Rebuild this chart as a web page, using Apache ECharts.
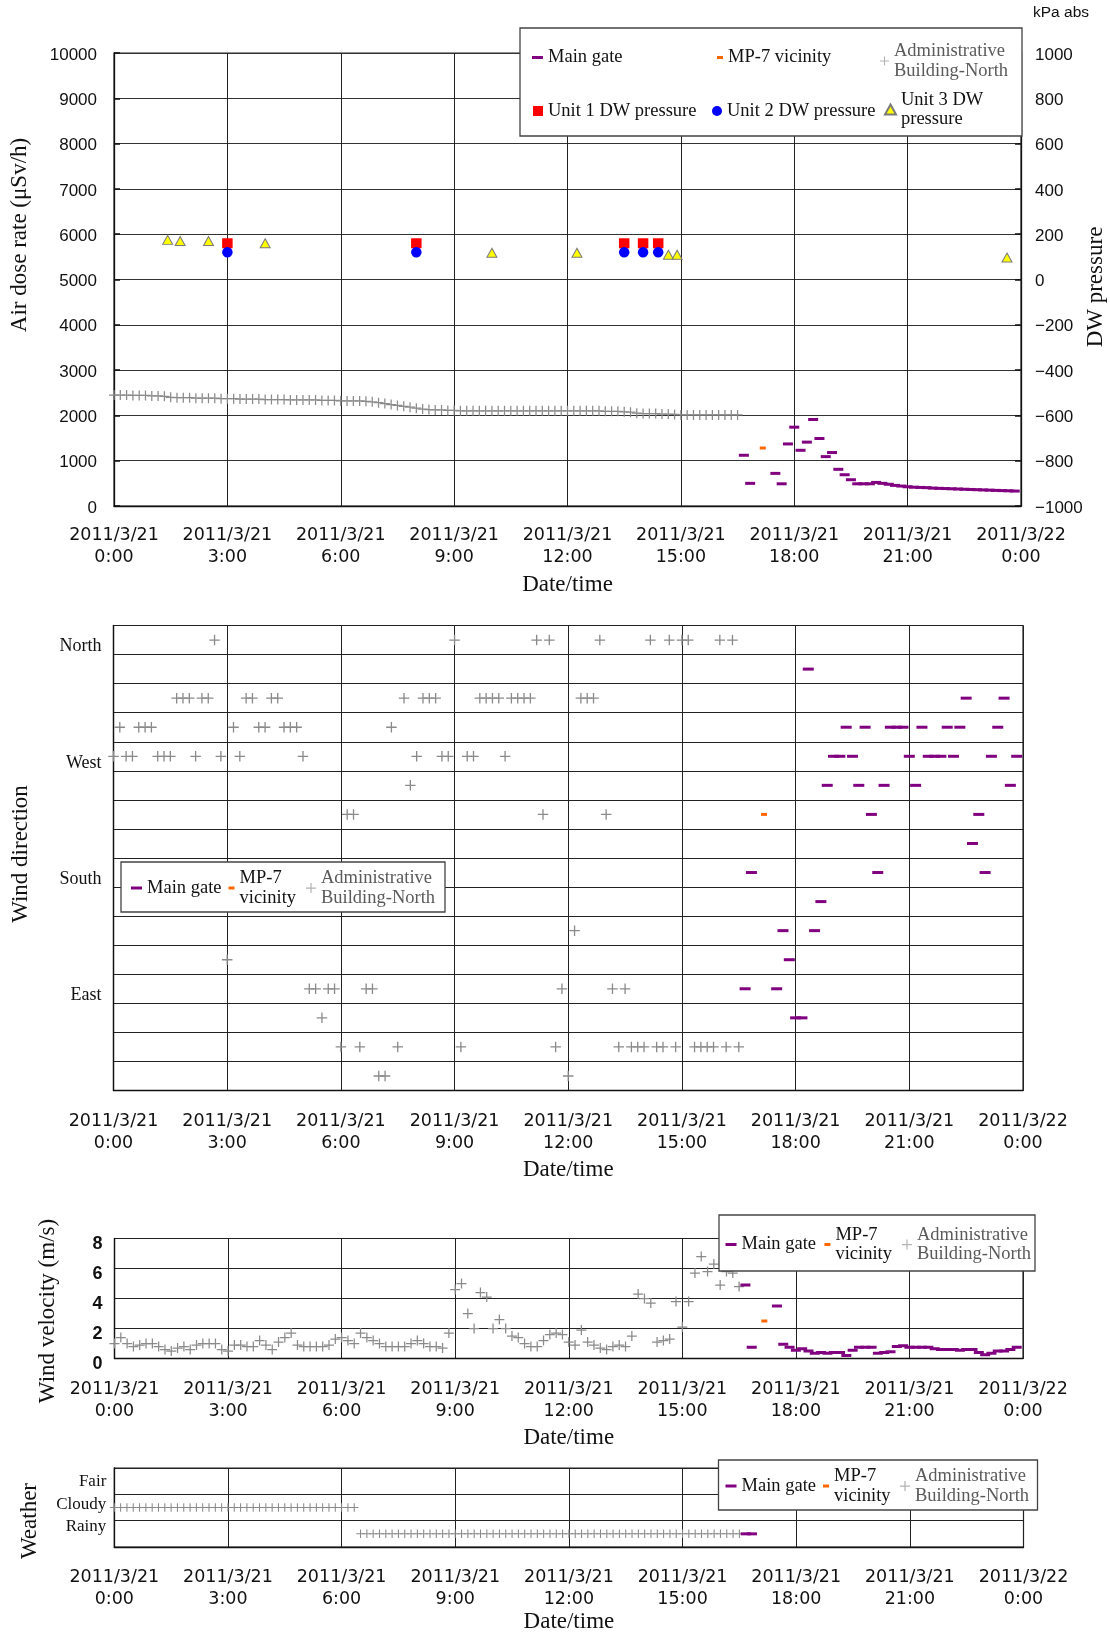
<!DOCTYPE html>
<html><head><meta charset="utf-8">
<script src="https://cdn.jsdelivr.net/npm/echarts@6/dist/echarts.min.js"></script>
<style>html,body{margin:0;padding:0;background:#fff}#c{width:1110px;height:1633px}</style>
</head><body><div id="c"></div>
<script>
// ---------- DATA (10-minute slots; slot 0 = 2011/3/21 0:00) ----------
const X_TICK_LABELS = ['2011/3/21\n0:00','2011/3/21\n3:00','2011/3/21\n6:00','2011/3/21\n9:00','2011/3/21\n12:00','2011/3/21\n15:00','2011/3/21\n18:00','2011/3/21\n21:00','2011/3/22\n0:00'];
const DIRS = ['N','NNW','NW','WNW','W','WSW','SW','SSW','S','SSE','SE','ESE','E','ENE','NE','NNE'];
const DIR_LABELS = {N:'North', W:'West', S:'South', E:'East'};
const WEATHER = ['Fair','Cloudy','Rainy'];

const ADMIN_START = 0;      // Administrative Building-North: slots 0..99
const MAIN_START = 100;     // Main gate: slots 100..143
const MP7_SLOTS = [103];

// Air dose rate (uSv/h)
const adminDose = [2450,2450,2450,2440,2440,2440,2430,2430,2420,2400,
  2390,2390,2390,2380,2380,2380,2380,2370,2370,2370,
  2360,2360,2360,2360,2350,2350,2350,2350,2340,2340,
  2340,2340,2340,2330,2330,2330,2320,2320,2320,2320,
  2310,2300,2280,2260,2240,2220,2200,2180,2160,2140,
  2130,2120,2120,2110,2110,2100,2100,2100,2100,2100,
  2100,2100,2100,2100,2100,2100,2100,2100,2100,2100,
  2100,2100,2100,2100,2100,2100,2100,2100,2090,2090,
  2090,2080,2070,2050,2040,2040,2040,2030,2030,2020,
  2010,2010,2010,2010,2010,2010,2010,2010,2010,2010];
const mainGateDose = [1120,500,null,null,null,720,490,1370,1740,1230,
  1410,1910,1490,1090,1180,810,690,580,490,490,
  490,520,500,480,455,440,425,415,410,405,
  395,390,385,380,375,370,365,360,355,350,
  345,340,336,330];
const mp7Dose = [1280];

// DW pressure (kPa abs), time in hours
const unit1Time = [3, 8, 13.5, 14, 14.4];
const unit1P    = [160, 160, 160, 160, 160];
const unit2Time = [3, 8, 13.5, 14, 14.4];
const unit2P    = [120, 120, 120, 120, 120];
const unit3Time = [1.42, 1.75, 2.5, 4, 10, 12.25, 14.67, 14.9, 23.63];
const unit3P    = [175, 170, 170, 160, 118, 118, 109, 109, 97];

// Wind direction
const adminDir = ['W','WNW','W','W','WNW','WNW','WNW','W','W','W',
  'NW','NW','NW','W','NW','NW','N','W','ESE','WNW',
  'W','NW','NW','WNW','WNW','NW','NW','WNW','WNW','WNW',
  'W','E','E','ENE','E','E','NE','SW','SW','NE',
  'E','E','NNE','NNE','WNW','NE','NW','WSW','W','NW',
  'NW','NW','W','W','N','NE','W','W','NW','NW',
  'NW','NW','W','NW','NW','NW','NW','N','SW','N',
  'NE','E','NNE','SE','NW','NW','NW','N','SW','E',
  'NE','E','NE','NE','NE','N','NE','NE','N','NE',
  'N','N','NE','NE','NE','NE','N','NE','N','NE'];
const mainGateDir = ['E','S',null,null,null,'E','SE','ESE','ENE','ENE',
  'NNW','SE','SSE','WSW','W','W','WNW','W','WSW','WNW',
  'SW','S','WSW','WNW','WNW','WNW','W','WSW','WNW','W',
  'W','W','WNW','W','WNW','NW','SSW','SW','S','W',
  'WNW','NW','WSW','W'];
const mp7Dir = ['SW'];

// Wind velocity (m/s)
const adminVel = [1.0,1.4,1.0,0.8,0.9,1.0,1.0,0.8,0.6,0.5,
  0.7,0.8,0.6,0.9,1.0,1.0,1.0,0.6,0.5,0.9,
  0.9,0.8,0.8,1.2,0.9,0.6,1.1,1.4,1.7,0.9,
  0.8,0.8,0.8,0.8,0.9,1.3,1.4,1.2,1.0,1.7,
  1.4,1.2,1.0,0.8,0.8,0.8,0.8,1.0,1.2,1.0,
  0.8,0.8,0.7,1.7,4.6,5.0,3.0,2.0,4.4,4.1,
  2.0,2.6,2.0,1.5,1.4,1.0,0.8,0.8,1.2,1.6,
  1.7,1.6,1.1,0.9,1.9,1.1,0.9,0.7,0.6,0.8,
  0.9,0.8,1.5,4.3,4.0,3.7,1.1,1.2,1.3,3.8,
  2.1,3.8,5.7,6.8,5.8,6.3,4.9,5.8,5.7,4.8];
const mainGateVel = [4.9,0.75,null,null,null,3.5,0.95,0.75,0.55,0.65,
  0.5,0.35,0.4,0.35,0.4,0.4,0.2,0.55,0.75,0.75,
  0.75,0.35,0.4,0.45,0.8,0.85,0.75,0.75,0.75,0.75,
  0.65,0.6,0.6,0.6,0.55,0.6,0.6,0.4,0.25,0.35,
  0.5,0.5,0.6,0.75];
const mp7Vel = [2.5];

// Weather
const adminWeather = ['Cloudy','Cloudy','Cloudy','Cloudy','Cloudy','Cloudy','Cloudy','Cloudy','Cloudy','Cloudy',
  'Cloudy','Cloudy','Cloudy','Cloudy','Cloudy','Cloudy','Cloudy','Cloudy','Cloudy','Cloudy',
  'Cloudy','Cloudy','Cloudy','Cloudy','Cloudy','Cloudy','Cloudy','Cloudy','Cloudy','Cloudy',
  'Cloudy','Cloudy','Cloudy','Cloudy','Cloudy','Cloudy','Cloudy','Cloudy','Cloudy','Rainy',
  'Rainy','Rainy','Rainy','Rainy','Rainy','Rainy','Rainy','Rainy','Rainy','Rainy',
  'Rainy','Rainy','Rainy','Rainy','Rainy','Rainy','Rainy','Rainy','Rainy','Rainy',
  'Rainy','Rainy','Rainy','Rainy','Rainy','Rainy','Rainy','Rainy','Rainy','Rainy',
  'Rainy','Rainy','Rainy','Rainy','Rainy','Rainy','Rainy','Rainy','Rainy','Rainy',
  'Rainy','Rainy','Rainy','Rainy','Rainy','Rainy','Rainy','Rainy','Rainy','Rainy',
  'Rainy','Rainy','Rainy','Rainy','Rainy','Rainy','Rainy','Rainy','Rainy','Rainy'];
const mainGateWeather = ['Rainy','Rainy'];

// ---------- BUILD ----------
const SERIF = '"Liberation Serif", "Times New Roman", serif';
const SANS = '"Liberation Sans", Arial, sans-serif';
const DEJAVU = '"DejaVu Sans", sans-serif';
const C_MAIN = '#800080', C_MP7 = '#ff6600', C_ADMIN = '#8a8a8a';
const PLUS = 'path://M3.5,0H4.5V3.5H8V4.5H4.5V8H3.5V4.5H0V3.5H3.5Z';
const N_ADMIN = 'Administrative Building-North', N_MAIN = 'Main gate', N_MP7 = 'MP-7 vicinity';

function pts(arr, start) {
  const out = [];
  arr.forEach((v, i) => { if (v !== null && v !== undefined) out.push([(start + i) / 6, v]); });
  return out;
}
function ptsSlots(arr, slots) { return arr.map((v, i) => [slots[i] / 6, v]); }

function mkGrid(left, top, width, height) {
  return {left, top, width, height, show: true, borderColor: '#222', borderWidth: 1.2,
    backgroundColor: 'transparent', containLabel: false, outerBoundsMode: 'none'};
}
function mkX(gi, margin, nameGap) {
  return {type: 'value', gridIndex: gi, min: 0, max: 24, interval: 3,
    axisLine: {show: true, onZero: false, lineStyle: {color: '#111', width: 1.3}},
    axisTick: {show: false},
    splitLine: {show: true, lineStyle: {color: '#222', width: 1}},
    axisLabel: {show: true, formatter: v => X_TICK_LABELS[Math.round(v / 3)], fontFamily: DEJAVU,
      fontSize: 17.5, lineHeight: 22, color: '#111', margin},
    name: 'Date/time', nameLocation: 'middle', nameGap,
    nameTextStyle: {fontFamily: SERIF, fontSize: 23, color: '#111'}};
}
const axLine = {show: true, onZero: false, lineStyle: {color: '#111', width: 1.3}};

function sc(name, xi, yi, data, symbol, size, color, extra) {
  return Object.assign({name, type: 'scatter', xAxisIndex: xi, yAxisIndex: yi, data, symbol, symbolSize: size,
    itemStyle: {color, opacity: 1, borderWidth: 0}, silent: true, animation: false, z: 3}, extra || {});
}

function lg(name, icon, left, cy, w, h, text, nLines, color, iconColor) {
  const lh = 19.5;
  const H = Math.max(h, nLines * lh);
  const o = {show: true, selectedMode: false, orient: 'horizontal', left, top: cy - H / 2, padding: 0,
    itemWidth: w, itemHeight: h, itemGap: 0, data: [{name, icon}], formatter: () => text, z: 20,
    textStyle: {fontFamily: SERIF, fontSize: 18.5, lineHeight: lh, color: color || '#111'}};
  if (iconColor) o.itemStyle = {color: iconColor};
  return o;
}
function legendSet(cy, xMain, xMp7, xAdmin) {
  return [
    lg(N_MAIN, 'rect', xMain, cy, 11, 3, 'Main gate', 1),
    lg(N_MP7, 'rect', xMp7, cy, 6, 3, 'MP-7\nvicinity', 2),
    lg(N_ADMIN, PLUS, xAdmin, cy, 10, 10, 'Administrative\nBuilding-North', 2, '#5a5a5a', '#b4b4b4')
  ];
}

function vText(text, x, y) {
  return {type: 'text', x, y, rotation: Math.PI / 2, z: 15,
    style: {text, x: 0, y: 0, font: '23px "Liberation Serif"', fill: '#111',
      align: 'center', verticalAlign: 'middle', textAlign: 'center', textVerticalAlign: 'middle'}};
}
function box(x, y, w, h) {
  return {type: 'rect', z: 10, shape: {x, y, width: w, height: h},
    style: {fill: '#fff', stroke: '#444', lineWidth: 1.3}};
}
function richNum(family, size, padTop, weight, fmt) {
  return {
    formatter: v => '{a|' + (fmt ? fmt(v) : String(v)) + '}',
    rich: {a: {fontFamily: family, fontSize: size, fontWeight: weight || 'normal', color: '#111', padding: [padTop, 0, 0, 0]}}
  };
}

const option = {
  animation: false,
  backgroundColor: '#fff',
  textStyle: {fontFamily: SERIF},
  grid: [
    mkGrid(114, 53, 907, 453),
    mkGrid(113.5, 625.5, 909.5, 465),
    mkGrid(114.5, 1238.5, 908.5, 120),
    mkGrid(114.3, 1468, 909.2, 79)
  ],
  xAxis: [mkX(0, 18, 67), mkX(1, 20, 68), mkX(2, 20, 68), mkX(3, 19, 63)],
  yAxis: [
    {type: 'value', gridIndex: 0, position: 'left', min: 0, max: 10000, interval: 1000, axisLine: axLine,
      axisTick: {show: true, inside: true, length: 6, lineStyle: {color: '#111', width: 1.5}},
      splitLine: {show: true, lineStyle: {color: '#333', width: 1}},
      axisLabel: Object.assign({margin: 17}, richNum(SANS, 17, 4))},
    {type: 'value', gridIndex: 0, position: 'right', min: -1000, max: 1000, interval: 200, axisLine: axLine,
      axisTick: {show: true, inside: true, length: 6, lineStyle: {color: '#111', width: 1.5}},
      splitLine: {show: false},
      axisLabel: Object.assign({margin: 14}, richNum(SANS, 17, 4, 'normal', v => v < 0 ? '\u2212' + (-v) : String(v)))},
    {type: 'category', gridIndex: 1, data: DIRS, inverse: true, boundaryGap: true, axisLine: axLine,
      axisTick: {show: false},
      splitLine: {show: true, interval: 0, lineStyle: {color: '#222', width: 1}},
      axisLabel: {interval: 0, margin: 12,
        formatter: v => DIR_LABELS[v] ? '{d|' + DIR_LABELS[v] + '}' : '',
        rich: {d: {fontFamily: SERIF, fontSize: 18, color: '#111', padding: [13, 0, 0, 0]}}}},
    {type: 'value', gridIndex: 2, min: 0, max: 8, interval: 2, axisLine: axLine,
      axisTick: {show: false},
      splitLine: {show: true, lineStyle: {color: '#222', width: 1}},
      axisLabel: Object.assign({margin: 12}, richNum(SANS, 18, 12, 'bold'))},
    {type: 'category', gridIndex: 3, data: WEATHER, inverse: true, boundaryGap: true, axisLine: axLine,
      axisTick: {show: false},
      splitLine: {show: true, interval: 0, lineStyle: {color: '#222', width: 1}},
      axisLabel: {interval: 0, margin: 8, color: '#111',
        formatter: v => '{' + ({Fair: 'f', Cloudy: 'c', Rainy: 'r'})[v] + '|' + v + '}',
        rich: {
          f: {fontFamily: SERIF, fontSize: 17, color: '#111', padding: [0, 0, 0, 0]},
          c: {fontFamily: SERIF, fontSize: 17, color: '#111', padding: [0, 0, 6, 0]},
          r: {fontFamily: SERIF, fontSize: 17, color: '#111', padding: [0, 0, 15, 0]}
        }}}
  ],
  series: [
    // Chart 1: air dose rate + DW pressure
    sc(N_ADMIN, 0, 0, pts(adminDose, ADMIN_START), PLUS, 10, C_ADMIN, {clip: false}),
    sc(N_MAIN, 0, 0, pts(mainGateDose, MAIN_START), 'rect', [10, 3], C_MAIN),
    sc(N_MP7, 0, 0, ptsSlots(mp7Dose, MP7_SLOTS), 'rect', [6, 3], C_MP7),
    sc('Unit 1 DW pressure', 0, 1, unit1P.map((v, i) => [unit1Time[i], v]), 'rect', [10.5, 10], '#ff0000'),
    sc('Unit 2 DW pressure', 0, 1, unit2P.map((v, i) => [unit2Time[i], v]), 'circle', 10.5, '#0000ff'),
    sc('Unit 3 DW pressure', 0, 1, unit3P.map((v, i) => [unit3Time[i], v]), 'triangle', [10, 9], '#ffff00',
      {itemStyle: {color: '#ffff00', opacity: 1, borderColor: '#7a7a7a', borderWidth: 1}}),
    // Chart 2: wind direction
    sc(N_ADMIN, 1, 2, pts(adminDir, ADMIN_START), PLUS, 10.5, C_ADMIN, {clip: false}),
    sc(N_MAIN, 1, 2, pts(mainGateDir, MAIN_START), 'rect', [11, 3], C_MAIN),
    sc(N_MP7, 1, 2, ptsSlots(mp7Dir, MP7_SLOTS), 'rect', [6, 3], C_MP7),
    // Chart 3: wind velocity
    sc(N_ADMIN, 2, 3, pts(adminVel, ADMIN_START), PLUS, 10, C_ADMIN, {clip: false}),
    sc(N_MAIN, 2, 3, pts(mainGateVel, MAIN_START), 'rect', [10, 3], C_MAIN),
    sc(N_MP7, 2, 3, ptsSlots(mp7Vel, MP7_SLOTS), 'rect', [6, 3], C_MP7),
    // Chart 4: weather
    sc(N_ADMIN, 3, 4, pts(adminWeather, ADMIN_START), PLUS, 8.5, C_ADMIN, {clip: false}),
    sc(N_MAIN, 3, 4, pts(mainGateWeather, MAIN_START), 'rect', [10, 3], C_MAIN)
  ],
  legend: [
    lg(N_MAIN, 'rect', 532, 57.5, 11, 3, 'Main gate', 1),
    lg(N_MP7, 'rect', 717, 57.5, 6, 3, 'MP-7 vicinity', 1),
    lg(N_ADMIN, PLUS, 880, 61, 9, 9, 'Administrative\nBuilding-North', 2, '#5a5a5a', '#b4b4b4'),
    lg('Unit 1 DW pressure', 'rect', 533, 111, 10, 10, 'Unit 1 DW pressure', 1),
    lg('Unit 2 DW pressure', 'circle', 712, 111, 10, 10, 'Unit 2 DW pressure', 1),
    lg('Unit 3 DW pressure', 'triangle', 884, 109.5, 11, 10, 'Unit 3 DW\npressure', 2)
  ].concat(legendSet(888, 131, 228.5, 306))
   .concat(legendSet(1244.5, 725.5, 824.4, 902))
   .concat(legendSet(1486, 725.5, 823, 900)),
  graphic: [
    box(520, 28, 502, 108),
    box(121, 862, 324, 50),
    box(719, 1215, 316, 56),
    box(718.5, 1460, 319, 50),
    {type: 'text', left: 1033, top: 5, z: 15, style: {text: 'kPa abs', font: '15.5px "Liberation Sans"', fill: '#111'}},
    vText('Air dose rate (\u03bcSv/h)', 20, 235),
    vText('DW pressure', 1096, 287),
    vText('Wind direction', 20.5, 854),
    vText('Wind velocity (m/s)', 47.5, 1311),
    vText('Weather', 30, 1521)
  ]
};

const chart = echarts.init(document.getElementById('c'), null, {renderer: 'canvas', width: 1110, height: 1633});
chart.setOption(option);
</script></body></html>
